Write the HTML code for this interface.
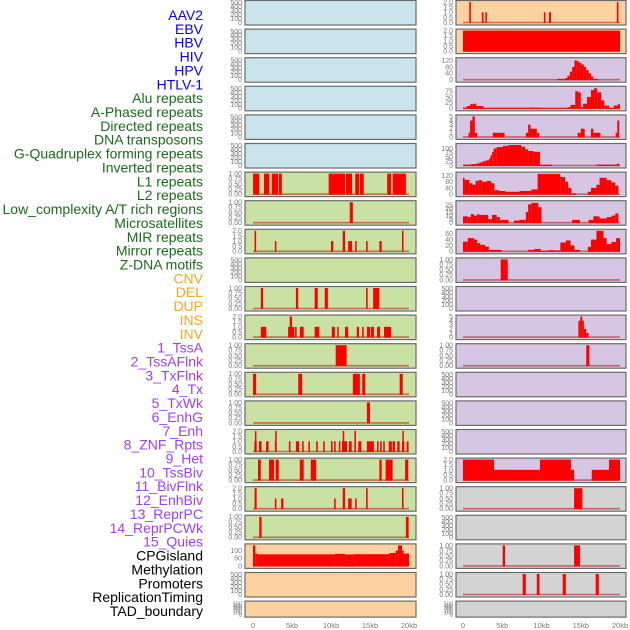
<!DOCTYPE html>
<html><head><meta charset="utf-8">
<style>
html,body{margin:0;padding:0;background:#fff;width:630px;height:630px;overflow:hidden}
svg{display:block;font-family:"Liberation Sans",sans-serif}
</style></head><body>
<svg id="chart" width="630" height="630" viewBox="0 0 630 630"></svg>
<script>
// ---------- data ----------
const trackLabels = ["AAV2","EBV","HBV","HIV","HPV","HTLV-1","Alu repeats","A-Phased repeats","Directed repeats","DNA transposons","G-Quadruplex forming repeats","Inverted repeats","L1 repeats","L2 repeats","Low_complexity A/T rich regions","Microsatellites","MIR repeats","Mirror repeats","Z-DNA motifs","CNV","DEL","DUP","INS","INV","1_TssA","2_TssAFlnk","3_TxFlnk","4_Tx","5_TxWk","6_EnhG","7_Enh","8_ZNF_Rpts","9_Het","10_TssBiv","11_BivFlnk","12_EnhBiv","13_ReprPC","14_ReprPCWk","15_Quies","CPGisland","Methylation","Promoters","ReplicationTiming","TAD_boundary"];
const labelGroups = ["virus","virus","virus","virus","virus","virus","rep","rep","rep","rep","rep","rep","rep","rep","rep","rep","rep","rep","rep","sv","sv","sv","sv","sv","chrom","chrom","chrom","chrom","chrom","chrom","chrom","chrom","chrom","chrom","chrom","chrom","chrom","chrom","chrom","other","other","other","other","other"];
const xTicks = [0,5,10,15,20];
const xTickLabels = ["0","5kb","10kb","15kb","20kb"];
// y-scale type per panel row: "e"=empty 0-500, "1"=0-1, "2"=0-2, number = custom max
const leftScale  = ["e","e","e","e","e","e","1","1","2","e","1","2","1","1","1","2","1","2","1","m","e","e"];
const rightScale = ["2","2","r2","r3","r4","r5","r6","r7","r8","1","e","r11","1","e","e","e","2","1","e","1","1","e"];
const leftBgKey  = ["b","b","b","b","b","b","g","g","g","g","g","g","g","g","g","g","g","g","g","p","p","p"];
const rightBgKey = ["p","p","v","v","v","v","v","v","v","v","v","v","v","v","v","v","v","s","s","s","s","s"];
const customTicks = {
  m:[[0,"0"],[50,"50"],[100,"100"]], r2:[[0,"0"],[40,"40"],[80,"80"],[120,"120"]],
  r3:[[0,"0"],[25,"25"],[50,"50"],[75,"75"]], r4:[[0,"0"],[1,"1"],[2,"2"],[3,"3"],[4,"4"],[5,"5"]],
  r5:[[0,"0"],[25,"25"],[50,"50"],[75,"75"],[100,"100"]], r6:[[0,"0"],[40,"40"],[80,"80"],[120,"120"]],
  r7:[[0,"0"],[5,"5"],[10,"10"],[15,"15"],[20,"20"],[25,"25"]], r8:[[0,"0"],[20,"20"],[40,"40"],[60,"60"]],
  r11:[[0,"0"],[1,"1"],[2,"2"],[3,"3"],[4,"4"],[5,"5"]]
};
const customMax = {m:133,r2:128,r3:90,r4:5,r5:120,r6:132,r7:29,r8:70,r11:5};

// segments: [startKb, endKb, value]
const L6=[[0,0.8,1],[1.4,2.1,1],[2.4,3.2,1],[3.3,3.7,1],[9.7,11.8,1],[11.9,12.7,1],[13.1,13.6,1],[13.7,14.2,1],[17.2,17.7,1],[17.9,19.6,1]];
const L7=[[12.4,12.8,1]];
const L8=[[0.2,0.4,2],[2.8,3.0,1],[10,10.3,1],[11.5,11.8,2],[12.2,12.7,1],[13.1,13.3,1],[14.5,14.7,1],[16.2,16.5,1],[19.1,19.3,2]];
const L10=[[1.0,1.3,1],[5.5,5.8,1],[7.9,8.3,1],[9.2,9.6,1],[14.5,14.7,1],[15.4,16.2,1]];
const L11=[[1.0,1.7,1],[4.5,5.3,1],[4.7,5.0,2],[5.4,5.6,1],[6.0,6.5,1],[7.9,8.5,1],[10.1,10.5,1],[10.8,11.0,1],[11.8,12.2,1],[13.3,13.6,1],[14.0,14.2,1],[14.6,15.0,1],[15.1,15.5,1],[15.9,16.3,1],[16.8,17.7,1]];
const L12=[[10.6,12.0,1]];
const L13=[[0,0.4,1],[5.8,6.3,1],[12.8,13.7,1],[14.0,14.4,1],[18.8,19.2,1]];
const L14=[[14.6,15.0,1]];
const L15=[[0.17,0.47,1],[0.77,1.1,1],[1.67,2.0,1],[2.8,3.0,1],[4.6,4.8,1],[5.5,5.9,1],[6.3,6.5,1],[7.1,7.3,1],[8.1,8.3,1],[9.0,9.2,1],[10.0,10.2,1],[10.4,10.6,1],[11.0,11.2,1],[11.4,12.05,1],[12.3,12.65,1],[13.5,13.9,1],[14.6,15.5,1],[15.9,16.1,1],[16.3,16.5,1],[16.7,16.9,1],[17.4,17.8,1],[17.9,18.2,1],[18.5,18.8,1],[19.1,19.4,1],[19.7,19.95,1],[0.25,0.4,2],[2.85,3.0,2],[11.5,11.7,2],[13.0,13.2,2],[19.15,19.3,2]];
const L16=[[0.64,1.0,1],[2.05,2.7,1],[2.9,3.3,1],[6.0,6.5,1],[7.4,8.1,1],[16.2,16.5,1],[17.0,17.9,1],[19.5,19.9,1]];
const L17=[[0.2,0.47,2],[2.8,3.0,1],[3.6,3.9,1],[10.4,10.6,1],[11.5,11.8,2],[12.2,12.65,1],[13.1,13.3,1],[14.5,14.7,2],[19.1,19.3,2]];
const L18=[[0.8,1.1,1],[19.6,19.95,1]];
const L19=[[0,0.3,133],[0.3,0.6,80],[0.6,10.5,75],[10.5,11.8,78],[11.8,13.0,74],[13.0,17.5,76],[17.5,18.3,84],[18.3,18.6,100],[18.6,19.1,133],[19.1,19.3,100],[19.3,20,80]];
const R0=[[0.8,1.0,2],[2.4,2.6,1],[2.85,3.0,1],[10.3,10.5,1],[10.95,11.2,1],[19.6,19.8,2]];
const R1=[[0,20,2]];
const R2=[[12.0,13.0,5],[13.0,13.3,10],[13.3,13.6,25],[13.6,13.9,50],[13.9,14.2,80],[14.2,14.5,120],[14.5,14.8,115],[14.8,15.1,105],[15.1,15.4,95],[15.4,15.7,80],[15.7,16.0,60],[16.0,16.3,40],[16.3,16.6,20],[16.6,17.2,5]];
const R3=[[0,0.5,3],[0.5,0.9,10],[0.9,1.3,18],[1.3,1.7,20],[1.7,2.6,10],[2.6,8.5,2],[8.5,9.8,3],[9.8,13.3,1],[13.3,13.7,5],[13.7,14.3,15],[14.3,14.7,75],[14.7,15.0,70],[15.0,15.3,5],[15.3,15.8,20],[15.8,16.3,50],[16.3,16.7,80],[16.7,17.1,88],[17.1,17.6,70],[17.6,18.0,35],[18.0,18.6,12],[18.6,19.2,2],[19.2,19.7,12],[19.7,20,18]];
const R4=[[0.7,0.9,1],[0.9,1.2,4],[1.2,1.5,5],[1.5,1.8,1],[3.8,5.3,1],[8.0,8.3,1],[8.3,8.6,3],[8.6,9.4,2],[9.4,9.7,1],[14.6,15.0,1],[15.0,15.5,2],[16.3,16.6,2],[16.6,17.5,1],[19.45,19.65,1],[19.65,19.9,4]];
const R5=[[0,1.0,5],[1.0,1.7,8],[1.7,2.1,12],[2.1,2.5,18],[2.5,2.9,25],[2.9,3.3,30],[3.3,3.5,40],[3.5,3.7,60],[3.7,3.9,80],[3.9,4.3,100],[4.3,5.1,108],[5.1,5.8,115],[5.8,7.4,120],[7.4,7.9,110],[7.9,8.3,95],[8.3,9.0,85],[9.0,9.8,80],[9.8,11.3,5],[17.0,19.6,5],[19.6,19.9,10]];
const R6=[[0,0.2,105],[0.2,0.8,92],[0.8,1.2,70],[1.2,1.6,60],[1.6,2.0,85],[2.0,2.4,90],[2.4,3.0,80],[3.0,3.6,85],[3.6,4.0,70],[4.0,4.6,25],[4.6,5.4,20],[5.4,7.2,15],[7.2,8.7,20],[8.7,9.5,30],[9.5,12.4,130],[12.4,13.0,110],[13.0,13.4,80],[13.4,13.8,40],[13.8,14.4,5],[15.9,16.3,15],[16.3,17.0,40],[17.0,17.4,60],[17.4,18.3,105],[18.3,18.9,90],[18.9,19.4,75],[19.4,19.8,55]];
const R7=[[0,0.6,9],[0.6,1.0,8],[1.0,1.4,12],[1.4,1.8,10],[1.8,2.1,12],[2.1,3.2,11],[3.2,3.7,5],[3.7,4.3,11],[4.3,4.7,8],[4.7,5.8,4],[6.5,7.2,3],[7.2,8.0,4],[8.0,8.3,15],[8.3,8.7,26],[8.7,9.6,28],[9.6,10.0,22],[13.9,14.9,4],[16.0,16.6,4],[16.6,17.4,9],[17.4,18.3,6],[18.3,18.9,8],[18.9,19.4,10],[19.4,19.8,13]];
const R8=[[0,0.6,33],[0.6,1.4,45],[1.4,1.8,40],[1.8,2.2,28],[2.2,2.8,22],[2.8,3.3,16],[3.3,4.9,5],[8.3,9.1,5],[9.1,9.9,8],[9.9,10.9,2],[10.9,11.6,4],[11.6,12.4,3],[12.4,13.1,30],[13.1,13.7,37],[13.7,14.2,20],[14.2,14.9,5],[15.9,16.3,15],[16.3,17.0,40],[17.0,17.9,70],[17.9,18.3,45],[18.3,18.9,25],[18.9,19.5,32],[19.5,20,45]];
const R9=[[4.8,5.7,1]];
const R11=[[14.7,14.95,4],[14.95,15.2,5],[15.2,15.4,4],[15.4,15.7,2],[15.7,16.0,1]];
const R12=[[15.7,16.1,1]];
const R16=[[0,3.95,2],[3.95,9.8,1],[9.8,13.75,2],[13.75,14.15,1],[16.4,18.6,1],[18.6,20,2]];
const R17=[[14.15,15.2,1]];
const R19=[[5.05,5.35,1],[14.15,14.9,1]];
const R20=[[7.6,8.0,1],[9.4,9.75,1],[12.7,13.1,1],[16.9,17.3,1]];
const leftData = [null,null,null,null,null,null,L6,L7,L8,null,L10,L11,L12,L13,L14,L15,L16,L17,L18,L19,null,null];
const rightData = [R0,R1,R2,R3,R4,R5,R6,R7,R8,R9,null,R11,R12,null,null,null,R16,R17,null,R19,R20,null];

// ---------- layout ----------
const NS="http://www.w3.org/2000/svg";
const svg=document.getElementById('chart');
const bgColors={b:"#c9e4ec",g:"#c9e2a3",p:"#fed1a0",v:"#d6c6e3",s:"#d3d3d3"};
const labelColors={virus:"#0000ff",rep:"#1a6b1a",sv:"#ffa520",chrom:"#a040f0",other:"#000000"};
const cols=[{x0:245,x1:416,z:253,k:7.8},{x0:456,x1:626,z:463,k:7.85}];
const rowTop=i=>0.5+i*28.6;
const rowH=i=>i===21?16:24.5;
function mk(tag,attrs,parent){const e=document.createElementNS(NS,tag);for(const k in attrs)e.setAttribute(k,attrs[k]);(parent||svg).appendChild(e);return e;}
function xScale(c,kb){return cols[c].z+kb*cols[c].k;}
function scaleInfo(s){
  if(s==="e")return{max:520,ticks:[[0,"0"],[100,"100"],[200,"200"],[300,"300"],[400,"400"],[500,"500"]]};
  if(s==="1")return{max:1,ticks:[[0,"0.00"],[0.25,"0.25"],[0.5,"0.50"],[0.75,"0.75"],[1,"1.00"]]};
  if(s==="2")return{max:2,ticks:[[0,"0.0"],[0.5,"0.5"],[1,"1.0"],[1.5,"1.5"],[2,"2.0"]]};
  return{max:customMax[s],ticks:customTicks[s]};
}

// labels
trackLabels.forEach((t,i)=>{
  const e=mk('text',{x:203,y:20+i*13.86,'text-anchor':'end','font-size':14,fill:labelColors[labelGroups[i]]});
  e.textContent=t;
  
  
});

function drawPanel(c,i,scale,bgKey,data){
  const g=mk('g',{});
  
  
  const T=rowTop(i),H=rowH(i),C=cols[c];
  mk('rect',{x:C.x0,y:T,width:C.x1-C.x0,height:H,fill:bgColors[bgKey],stroke:'#6b6b6b','stroke-width':1.2},g);
  const info=scaleInfo(scale);
  const y0=T+H-2.5, yTop=T+1.5;
  const ys=v=>y0-(v/info.max)*(y0-yTop);
  info.ticks.forEach(tk=>{
    const t=mk('text',{x:C.x0-3,y:ys(tk[0])+2.4,'text-anchor':'end','font-size':H<20?5.5:7,fill:'#7a7a7a'},g);
    t.textContent=tk[1];
    
    
  });
  if(data){
    mk('line',{x1:xScale(c,0),x2:xScale(c,20),y1:y0,y2:y0,stroke:'rgba(170,0,0,0.5)','stroke-width':1.6},g);
    data.forEach(d=>{
      const x1=xScale(c,d[0]),x2=xScale(c,d[1]);
      const r=mk('rect',{x:x1,y:ys(d[2]),width:Math.max(1.5,x2-x1),height:y0-ys(d[2])+0.5,fill:'#ff0000'},g);
      
      
    });
  }
}
for(let i=0;i<22;i++){
  drawPanel(0,i,leftScale[i],leftBgKey[i],leftData[i]);
  drawPanel(1,i,rightScale[i],rightBgKey[i],rightData[i]);
}
// x axes
[0,1].forEach(c=>{
  xTicks.forEach((v,j)=>{
    const t=mk('text',{x:xScale(c,v),y:628,'text-anchor':'middle','font-size':7.5,fill:'#7a7a7a'});
    t.textContent=xTickLabels[j];
    
    
  });
});
</script>
</body></html>
